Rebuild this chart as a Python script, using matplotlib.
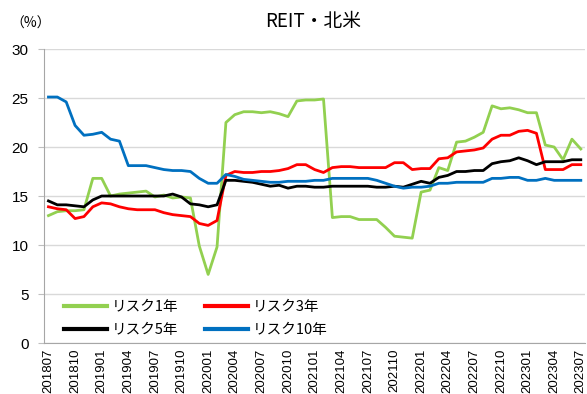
import matplotlib
matplotlib.use("Agg")
import matplotlib.pyplot as plt
import numpy as np

plt.rcParams['font.family'] = ['Liberation Sans', 'Noto Sans CJK JP', 'DejaVu Sans']

# Monthly labels 2018/07 .. 2023/07
months = [f"{y}{m:02d}" for y in range(2018, 2024) for m in range(1, 13)]
months = [m for m in months if "201807" <= m <= "202307"]

risk1 = [13.0, 13.4, 13.5, 13.5, 13.6, 16.8, 16.8, 15.0, 15.2, 15.3,
         15.4, 15.5, 14.9, 15.1, 14.8, 14.9, 14.8, 9.9, 7.0, 9.8,
         22.5, 23.3, 23.6, 23.6, 23.5, 23.6, 23.4, 23.1, 24.7, 24.8,
         24.8, 24.9, 12.8, 12.9, 12.9, 12.6, 12.6, 12.6, 11.8, 10.9,
         10.8, 10.7, 15.4, 15.6, 17.9, 17.6, 20.5, 20.6, 21.0, 21.5,
         24.2, 23.9, 24.0, 23.8, 23.5, 23.5, 20.2, 20.0, 18.7, 20.8,
         19.8]
risk3 = [13.9, 13.7, 13.6, 12.7, 12.9, 13.9, 14.3, 14.2, 13.9, 13.7,
         13.6, 13.6, 13.6, 13.3, 13.1, 13.0, 12.9, 12.2, 12.0, 12.5,
         17.1, 17.5, 17.4, 17.4, 17.5, 17.5, 17.6, 17.8, 18.2, 18.2,
         17.7, 17.4, 17.9, 18.0, 18.0, 17.9, 17.9, 17.9, 17.9, 18.4,
         18.4, 17.7, 17.8, 17.8, 18.8, 18.9, 19.5, 19.6, 19.7, 19.9,
         20.8, 21.2, 21.2, 21.6, 21.7, 21.4, 17.7, 17.7, 17.7, 18.2,
         18.2]
risk5 = [14.5, 14.1, 14.1, 14.0, 13.9, 14.6, 15.0, 15.0, 15.0, 15.0,
         15.0, 15.0, 15.0, 15.0, 15.2, 14.9, 14.2, 14.1, 13.9, 14.1,
         16.6, 16.6, 16.5, 16.4, 16.2, 16.0, 16.1, 15.8, 16.0, 16.0,
         15.9, 15.9, 16.0, 16.0, 16.0, 16.0, 16.0, 15.9, 15.9, 16.0,
         15.9, 16.2, 16.5, 16.3, 16.9, 17.1, 17.5, 17.5, 17.6, 17.6,
         18.3, 18.5, 18.6, 18.9, 18.6, 18.2, 18.5, 18.5, 18.5, 18.7,
         18.7]
risk10 = [25.1, 25.1, 24.6, 22.2, 21.2, 21.3, 21.5, 20.8, 20.6, 18.1,
          18.1, 18.1, 17.9, 17.7, 17.6, 17.6, 17.5, 16.8, 16.3, 16.3,
          17.2, 17.0, 16.7, 16.6, 16.5, 16.4, 16.4, 16.5, 16.5, 16.5,
          16.6, 16.6, 16.8, 16.8, 16.8, 16.8, 16.8, 16.6, 16.3, 16.0,
          15.8, 15.9, 15.9, 16.0, 16.3, 16.3, 16.4, 16.4, 16.4, 16.4,
          16.8, 16.8, 16.9, 16.9, 16.6, 16.6, 16.8, 16.6, 16.6, 16.6,
          16.6]

series = [
    ("リスク1年", risk1, "#92D050"),
    ("リスク3年", risk3, "#FF0000"),
    ("リスク5年", risk5, "#000000"),
    ("リスク10年", risk10, "#0070C0"),
]

fig = plt.figure(figsize=(5.87, 3.94), dpi=100)
ax = fig.add_axes([0.075, 0.1294, 0.922, 0.7462])

x = np.arange(len(months))
handles = {}
for label, vals, color in series:
    h, = ax.plot(x, vals, color=color, lw=2.0, label=label, solid_joinstyle="round")
    handles[label] = h

ax.set_xlim(-0.5, len(months) - 0.5)
ax.set_ylim(0, 30)
ax.set_yticks(range(0, 31, 5))
ax.set_xticks(x[::3])
ax.set_xticklabels(months[::3], rotation=90, fontsize=9.5)
ax.tick_params(axis="x", length=0, pad=4)
ax.tick_params(axis="y", length=4, color="#BFBFBF", labelsize=11, pad=7)
ax.grid(axis="y", color="#D9D9D9", lw=1.0)
ax.set_axisbelow(True)
for s in ["top", "right"]:
    ax.spines[s].set_visible(False)
ax.spines["left"].set_color("#A6A6A6")
ax.spines["bottom"].set_color("#A6A6A6")

fig.text(0.533, 0.945, "REIT・北米", ha="center", va="center", fontsize=13.5,
         family=["Noto Sans CJK JP"])
fig.text(0.018, 0.94, "（%）", ha="left", va="center", fontsize=10,
         family=["Noto Sans CJK JP"])

# two-column legend, filled row by row
order = ["リスク1年", "リスク5年", "リスク3年", "リスク10年"]
leg = ax.legend([handles[k] for k in order], order, ncol=2, loc="lower left",
                bbox_to_anchor=(0.012, -0.025), frameon=False,
                handlelength=3.0, columnspacing=1.8, handletextpad=0.3,
                labelspacing=0.65,
                prop={"family": ["Noto Sans CJK JP"], "size": 10.5})
for line in leg.get_lines():
    line.set_linewidth(3.0)

fig.savefig("out.png", dpi=100)
